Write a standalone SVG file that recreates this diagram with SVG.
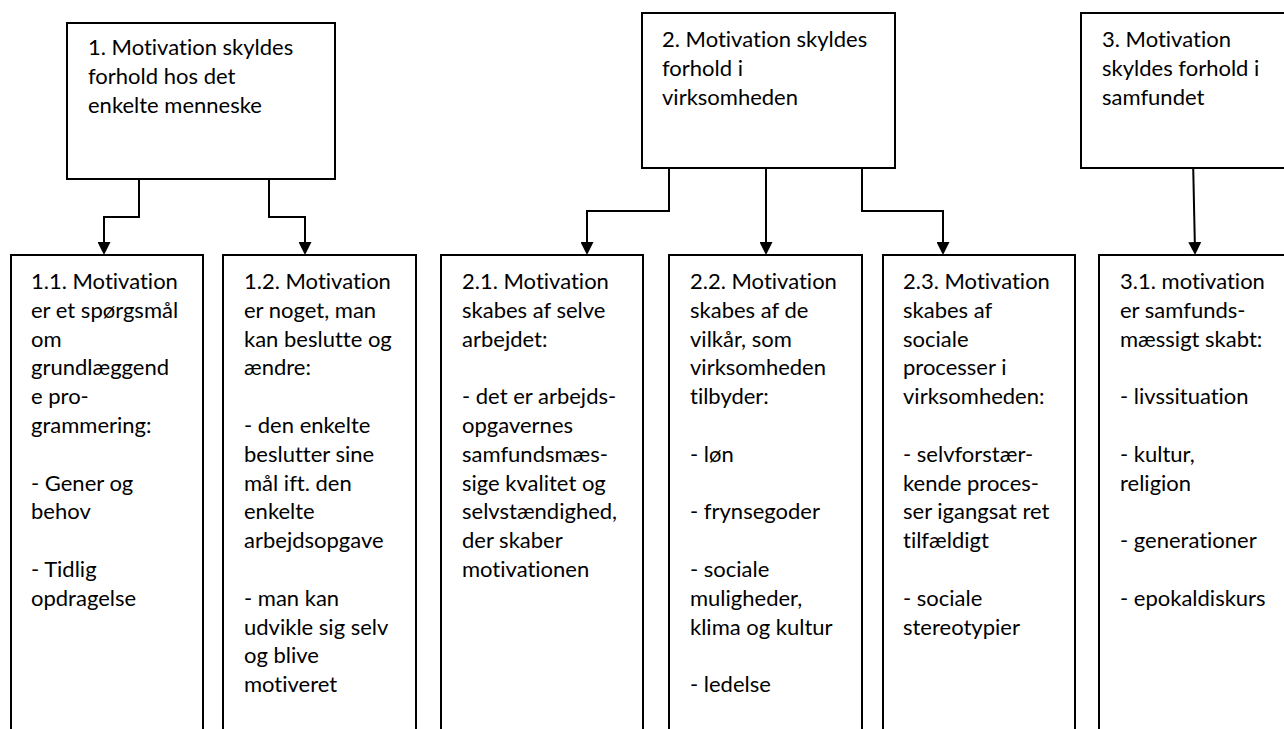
<svg xmlns="http://www.w3.org/2000/svg" width="1284" height="729" viewBox="0 0 1284 729">
<style>
  .box { fill: #ffffff; stroke: #000000; stroke-width: 2; }
  .conn { fill: none; stroke: #000000; stroke-width: 2; }
  .t { font-family: "Lato", "Open Sans", sans-serif; font-size: 22px; fill: #000000; font-variant-ligatures: none; font-feature-settings: "liga" 0, "clig" 0; }
</style>
<defs>
  <marker id="arrow" viewBox="0 0 13 13" refX="0" refY="6.5" markerWidth="13" markerHeight="13" markerUnits="userSpaceOnUse" orient="auto">
    <path d="M0,0 L13,6.5 L0,13 Z" fill="#000000"/>
  </marker>
</defs>
<rect width="1284" height="729" fill="#ffffff"/>

<g id="connectors">
  <path class="conn" d="M139,179 V217 H104 V242" marker-end="url(#arrow)"/>
  <path class="conn" d="M269,179 V217 H305 V242" marker-end="url(#arrow)"/>
  <path class="conn" d="M669,168 V211 H587 V242" marker-end="url(#arrow)"/>
  <path class="conn" d="M766,168 V242" marker-end="url(#arrow)"/>
  <path class="conn" d="M862,168 V211 H943 V242" marker-end="url(#arrow)"/>
  <path class="conn" d="M1193,158 L1194.8,242" marker-end="url(#arrow)"/>
</g>

<g id="n1">
  <rect class="box" x="67" y="23" width="268" height="156"/>
  <text class="t" x="88" y="55">1. Motivation skyldes<tspan x="88" dy="29">forhold hos det</tspan><tspan x="88" dy="29">enkelte menneske</tspan></text>
</g>
<g id="n2">
  <rect class="box" x="642" y="13" width="253" height="155"/>
  <text class="t" x="662" y="47">2. Motivation skyldes<tspan x="662" dy="29">forhold i</tspan><tspan x="662" dy="29">virksomheden</tspan></text>
</g>
<g id="n3">
  <rect class="box" x="1081" y="13" width="220" height="155"/>
  <text class="t" x="1102" y="47">3. Motivation<tspan x="1102" dy="29">skyldes forhold i</tspan><tspan x="1102" dy="29">samfundet</tspan></text>
</g>

<g id="n1_1">
  <rect class="box" x="11" y="255" width="192" height="490"/>
  <text class="t" x="31" y="289">1.1. Motivation<tspan x="31" dy="28.8">er et spørgsmål</tspan><tspan x="31" dy="28.8">om</tspan><tspan x="31" dy="28.8">grundlæggend</tspan><tspan x="31" dy="28.8">e pro-</tspan><tspan x="31" dy="28.8">grammering:</tspan><tspan x="31" dy="57.6">- Gener og</tspan><tspan x="31" dy="28.8">behov</tspan><tspan x="31" dy="57.6">- Tidlig</tspan><tspan x="31" dy="28.8">opdragelse</tspan></text>
</g>
<g id="n1_2">
  <rect class="box" x="223" y="255" width="193" height="490"/>
  <text class="t" x="244" y="289">1.2. Motivation<tspan x="244" dy="28.8">er noget, man</tspan><tspan x="244" dy="28.8">kan beslutte og</tspan><tspan x="244" dy="28.8">ændre:</tspan><tspan x="244" dy="57.6">- den enkelte</tspan><tspan x="244" dy="28.8">beslutter sine</tspan><tspan x="244" dy="28.8">mål ift. den</tspan><tspan x="244" dy="28.8">enkelte</tspan><tspan x="244" dy="28.8">arbejdsopgave</tspan><tspan x="244" dy="57.6">- man kan</tspan><tspan x="244" dy="28.8">udvikle sig selv</tspan><tspan x="244" dy="28.8">og blive</tspan><tspan x="244" dy="28.8">motiveret</tspan></text>
</g>
<g id="n2_1">
  <rect class="box" x="441" y="255" width="202" height="490"/>
  <text class="t" x="462" y="289">2.1. Motivation<tspan x="462" dy="28.8">skabes af selve</tspan><tspan x="462" dy="28.8">arbejdet:</tspan><tspan x="462" dy="57.6">- det er arbejds-</tspan><tspan x="462" dy="28.8">opgavernes</tspan><tspan x="462" dy="28.8">samfundsmæs-</tspan><tspan x="462" dy="28.8">sige kvalitet og</tspan><tspan x="462" dy="28.8">selvstændighed,</tspan><tspan x="462" dy="28.8">der skaber</tspan><tspan x="462" dy="28.8">motivationen</tspan></text>
</g>
<g id="n2_2">
  <rect class="box" x="669" y="255" width="193" height="490"/>
  <text class="t" x="690" y="289">2.2. Motivation<tspan x="690" dy="28.8">skabes af de</tspan><tspan x="690" dy="28.8">vilkår, som</tspan><tspan x="690" dy="28.8">virksomheden</tspan><tspan x="690" dy="28.8">tilbyder:</tspan><tspan x="690" dy="57.6">- løn</tspan><tspan x="690" dy="57.6">- frynsegoder</tspan><tspan x="690" dy="57.6">- sociale</tspan><tspan x="690" dy="28.8">muligheder,</tspan><tspan x="690" dy="28.8">klima og kultur</tspan><tspan x="690" dy="57.6">- ledelse</tspan></text>
</g>
<g id="n2_3">
  <rect class="box" x="883" y="255" width="192" height="490"/>
  <text class="t" x="903" y="289">2.3. Motivation<tspan x="903" dy="28.8">skabes af</tspan><tspan x="903" dy="28.8">sociale</tspan><tspan x="903" dy="28.8">processer i</tspan><tspan x="903" dy="28.8">virksomheden:</tspan><tspan x="903" dy="57.6">- selvforstær-</tspan><tspan x="903" dy="28.8">kende proces-</tspan><tspan x="903" dy="28.8">ser igangsat ret</tspan><tspan x="903" dy="28.8">tilfældigt</tspan><tspan x="903" dy="57.6">- sociale</tspan><tspan x="903" dy="28.8">stereotypier</tspan></text>
</g>
<g id="n3_1">
  <rect class="box" x="1099" y="255" width="200" height="490"/>
  <text class="t" x="1120" y="289">3.1. motivation<tspan x="1120" dy="28.8">er samfunds-</tspan><tspan x="1120" dy="28.8">mæssigt skabt:</tspan><tspan x="1120" dy="57.6">- livssituation</tspan><tspan x="1120" dy="57.6">- kultur,</tspan><tspan x="1120" dy="28.8">religion</tspan><tspan x="1120" dy="57.6">- generationer</tspan><tspan x="1120" dy="57.6">- epokaldiskurs</tspan></text>
</g>
</svg>
